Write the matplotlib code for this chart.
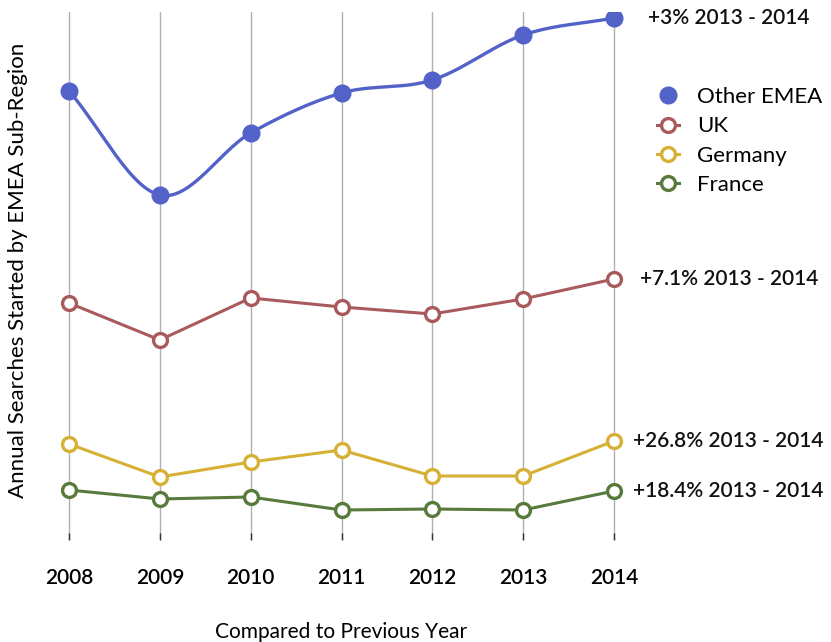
import numpy as np
import matplotlib
matplotlib.use("Agg")
import matplotlib.pyplot as plt

years = [2008, 2009, 2010, 2011, 2012, 2013, 2014]
other_emea = [449, 345, 407, 447, 460, 505, 522]
uk = [237, 200, 242, 233, 226, 241, 261]
germany = [96, 63, 78, 90, 64, 64, 99]
france = [50, 41, 43, 30, 31, 30, 49]
changes = ["+3% 2013 - 2014", "+7.1% 2013 - 2014", "+26.8% 2013 - 2014", "+18.4% 2013 - 2014"]

plt.rcParams['font.family'] = ['Lato', 'DejaVu Sans']


def smooth(x, y, n=30):
    # Catmull-Rom curve through the points, for drawing only
    x = np.asarray(x, float)
    y = np.asarray(y, float)
    px = np.concatenate([[2 * x[0] - x[1]], x, [2 * x[-1] - x[-2]]])
    py = np.concatenate([[2 * y[0] - y[1]], y, [2 * y[-1] - y[-2]]])
    xs, ys = [], []
    t = np.linspace(0, 1, n)
    for i in range(1, len(px) - 2):
        for p, out in ((px, xs), (py, ys)):
            p0, p1, p2, p3 = p[i - 1], p[i], p[i + 1], p[i + 2]
            out.extend(0.5 * (2 * p1 + (-p0 + p2) * t
                              + (2 * p0 - 5 * p1 + 4 * p2 - p3) * t ** 2
                              + (-p0 + 3 * p1 - 3 * p2 + p3) * t ** 3))
    return xs, ys


fig = plt.figure(figsize=(8.31, 6.42), dpi=100)
ax = fig.add_axes([41.75 / 831, 102 / 642, 599.5 / 831, 528 / 642])
ax.set_xlim(2007.7, 2014.3)
ax.set_ylim(0, 528)

blue = '#5262c9'
red = '#a95a5c'
gold = '#d6b136'
green = '#587a3c'

sx, sy = smooth(years, other_emea)
ax.plot(sx, sy, color=blue, lw=2.4, zorder=3)
ax.plot(years, other_emea, 'o', color=blue, ms=12, zorder=4, label='Other EMEA')

for vals, c, name in ((uk, red, 'UK'), (germany, gold, 'Germany'), (france, green, 'France')):
    ax.plot(years, vals, '-o', color=c, lw=2.2, ms=10, mfc='white', mec=c, mew=2.4,
            zorder=4, label=name)

offsets = [34, 26, 19, 19]
for vals, txt, off in zip((other_emea, uk, germany, france), changes, offsets):
    ax.annotate(txt, (years[-1], vals[-1]), xytext=(off, 0), textcoords='offset pixels',
                va='center', ha='left', fontsize=15, fontweight='semibold',
                color='#111111', annotation_clip=False)

ax.set_xticks(years)
ax.set_xticklabels([str(y) for y in years], fontsize=15, fontweight='semibold')
ax.set_yticks([])
ax.grid(axis='x', color='#b0b0b0', lw=1)
ax.tick_params(axis='x', direction='in', length=5, width=1, color='#333333', pad=20)
for s in ax.spines.values():
    s.set_visible(False)

ax.set_xlabel('Compared to Previous Year', fontsize=15, labelpad=25)
fig.text(18 / 831, 1 - 270 / 642, 'Annual Searches Started by EMEA Sub-Region',
         rotation=90, ha='center', va='center', fontsize=16)

fig.legend(loc='upper left', bbox_to_anchor=(657 / 831, 1 - 87 / 642), frameon=False,
           fontsize=16, handlelength=1.0, handletextpad=0.8, labelspacing=0.42,
           borderpad=0, borderaxespad=0)

fig.savefig('out.png', dpi=100)
